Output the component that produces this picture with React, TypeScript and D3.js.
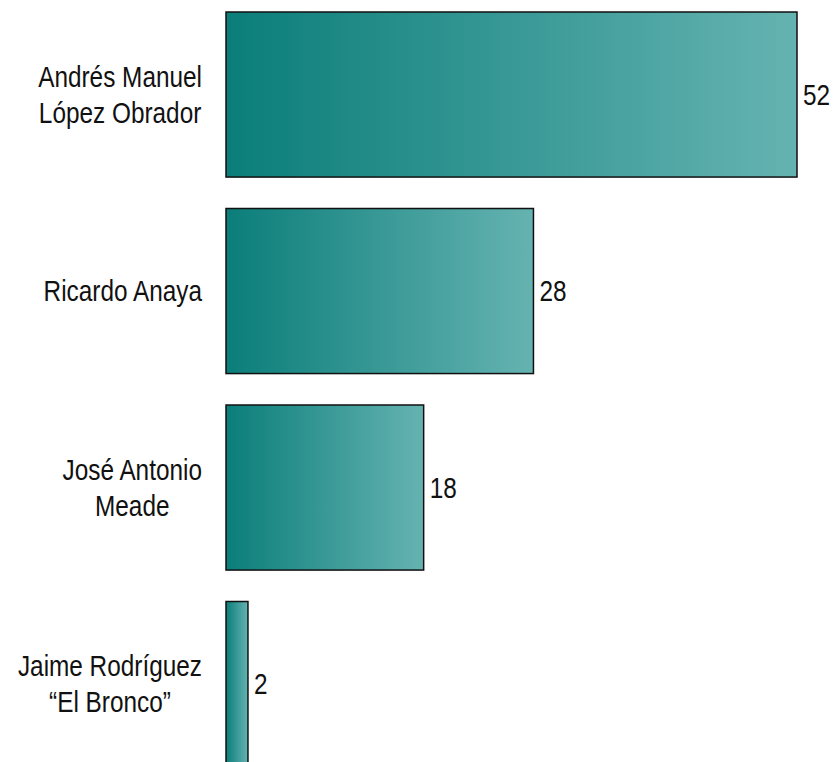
import React, { useEffect, useRef } from "react";
import * as d3 from "d3";

const candidates: string[][] = [
  ["Andrés Manuel", "López Obrador"],
  ["Ricardo Anaya"],
  ["José Antonio", "Meade"],
  ["Jaime Rodríguez", "“El Bronco”"],
];
const values: number[] = [52, 28, 18, 2];

const W = 837;
const H = 762;
const FONT = "'Liberation Sans Narrow', 'Arial Narrow', 'Liberation Sans', sans-serif";
const SX = 0.84;

export default function App() {
  const ref = useRef<SVGSVGElement | null>(null);

  useEffect(() => {
    const svg = d3.select(ref.current);
    svg.selectAll("*").remove();

    const x0 = 226;
    const x = d3.scaleLinear().domain([0, 52]).range([x0, 797]);
    const step = 196.5;
    const y = d3
      .scaleBand<number>()
      .domain(d3.range(values.length))
      .range([12 - 0.08 * step, 12 - 0.08 * step + step * values.length])
      .paddingInner(0.16)
      .paddingOuter(0.08);

    const defs = svg.append("defs");
    const grad = defs
      .append("linearGradient")
      .attr("id", "tealGrad")
      .attr("x1", "0%")
      .attr("x2", "100%")
      .attr("y1", "0%")
      .attr("y2", "0%");
    grad.append("stop").attr("offset", "0%").attr("stop-color", "#0b7e7a");
    grad.append("stop").attr("offset", "100%").attr("stop-color", "#65b3b1");

    const g = svg.append("g");

    g.selectAll("rect.bar")
      .data(values)
      .join("rect")
      .attr("class", "bar")
      .attr("x", x(0))
      .attr("y", (_, i) => y(i)!)
      .attr("width", (d) => x(d) - x(0))
      .attr("height", y.bandwidth())
      .attr("fill", "url(#tealGrad)")
      .attr("stroke", "#111")
      .attr("stroke-width", 1.5);

    g.selectAll("text.val")
      .data(values)
      .join("text")
      .attr("class", "val")
      .attr(
        "transform",
        (d, i) => `translate(${x(d) + 6},${y(i)! + y.bandwidth() / 2}) scale(${SX},1)`
      )
      .attr("dy", "0.35em")
      .attr("font-family", FONT)
      .attr("font-size", 29)
      .attr("fill", "#111")
      .text((d) => String(d));

    const lineH = 36;
    const rightEdge = 202;
    candidates.forEach((lines, i) => {
      const cy = y(i)! + y.bandwidth() / 2;
      const grp = g.append("g");
      const texts = lines.map((ln) =>
        grp
          .append("text")
          .attr("dy", "0.35em")
          .attr("text-anchor", "middle")
          .attr("font-family", FONT)
          .attr("font-size", 29)
          .attr("fill", "#111")
          .text(ln)
      );
      const maxW =
        (d3.max(texts, (t) => (t.node() as SVGTextElement).getComputedTextLength()) || 0) * SX;
      texts.forEach((t, j) =>
        t.attr(
          "transform",
          `translate(${rightEdge - maxW / 2},${cy + (j - (lines.length - 1) / 2) * lineH}) scale(${SX},1)`
        )
      );
    });
  }, []);

  return (
    <svg
      ref={ref}
      width={W}
      height={H}
      style={{ position: "absolute", left: 0, top: 0, background: "#fff" }}
    />
  );
}
